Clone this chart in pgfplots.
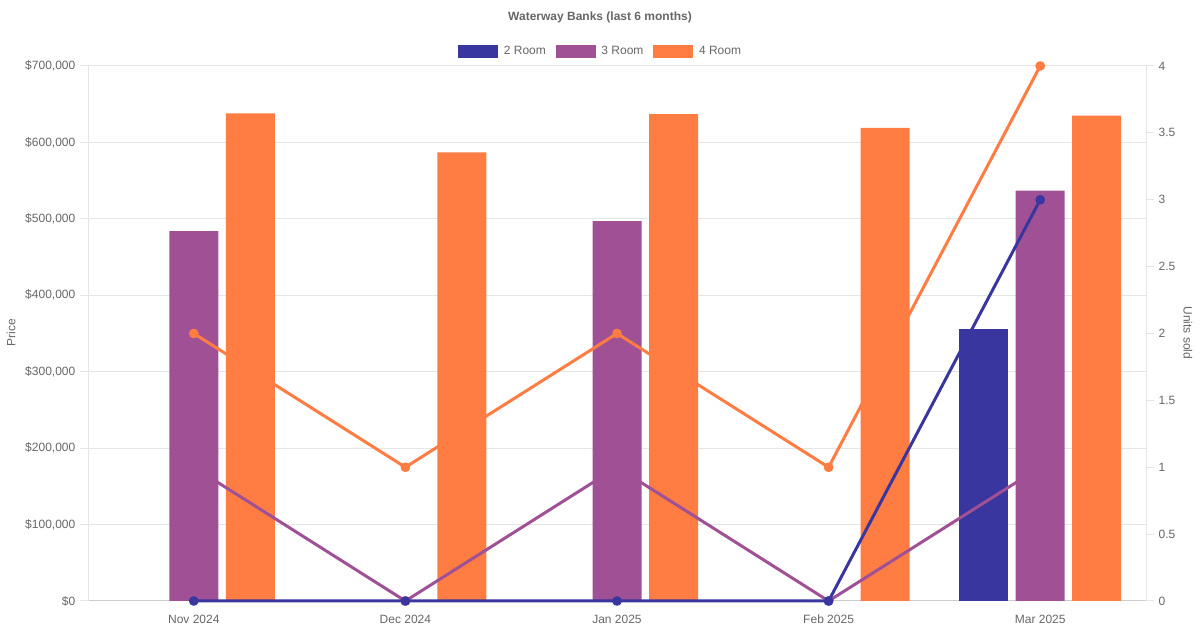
\documentclass[border=0pt]{standalone}
\usepackage{pgfplots}
\pgfplotsset{compat=1.18}
\usepackage{fontspec}
\setmainfont{Liberation Sans}
\definecolor{cA}{RGB}{57,54,159}
\definecolor{cB}{RGB}{160,81,149}
\definecolor{cC}{RGB}{255,124,67}
\definecolor{txt}{RGB}{102,102,102}
\definecolor{gridc}{RGB}{229,229,229}
\definecolor{axc}{RGB}{204,204,204}
\newcommand\f{\fontsize{9}{11}\selectfont}
\pgfplotsset{
  mybar/.style={ybar, bar width=36.75pt, draw=none,
    legend image code/.code={\fill[##1,/tikz/.cd] (0pt,-4.875pt) rectangle (30pt,4.875pt);}},
  common/.style={at={(66pt,21.75pt)}, anchor=south west,
    scale only axis, width=793.5pt, height=401.25pt,
    xmin=-0.5, xmax=4.5,
    tick label style={font=\f, text=txt},
    tick align=outside, major tick length=6pt},
}
\begin{document}
\begin{tikzpicture}[x=1pt,y=1pt]
\useasboundingbox (0,0) rectangle (900,472.5);
\begin{axis}[common,
  ymin=0, ymax=700000,
  scaled y ticks=false,
  axis x line*=bottom, axis y line*=left,
  x axis line style={axc, line width=0.75pt},
  y axis line style={gridc, line width=0.75pt},
  xtick={0,1,2,3,4},
  xticklabels={Nov 2024,Dec 2024,Jan 2025,Feb 2025,Mar 2025},
  xtick style={draw=none},
  xticklabel style={anchor=base, yshift=-11pt},
  ytick={0,100000,200000,300000,400000,500000,600000,700000},
  yticklabels={{\$0},{\$100,000},{\$200,000},{\$300,000},{\$400,000},{\$500,000},{\$600,000},{\$700,000}},
  ytick style={gridc, line width=0.75pt},
  ymajorgrids, grid style={gridc, line width=0.75pt},
  yticklabel style={anchor=east},
  legend columns=3,
  legend style={at={(0.5,1.0299)}, anchor=center, xshift=-12.1pt, yshift=-1.1pt,
    draw=none, fill=none, font=\f, text=txt,
    /tikz/every odd column/.append style={column sep=2.4pt},
    /tikz/every even column/.append style={column sep=5.3pt}},
]
\addplot[mybar, bar shift=-42.4pt, fill=cA] coordinates {(4,356000)};
\addlegendentry{2 Room}
\addplot[mybar, bar shift=0pt, fill=cB] coordinates {(0,484000) (2,497000) (4,537000)};
\addlegendentry{3 Room}
\addplot[mybar, bar shift=42.4pt, fill=cC] coordinates {(0,638000) (1,587000) (2,637000) (3,619000) (4,635000)};
\addlegendentry{4 Room}
\end{axis}
\begin{axis}[common,
  ymin=0, ymax=4,
  axis x line=none, axis y line*=right,
  y axis line style={gridc, line width=0.75pt},
  ytick={0,0.5,1,1.5,2,2.5,3,3.5,4},
  yticklabels={0,0.5,1,1.5,2,2.5,3,3.5,4},
  ytick style={gridc, line width=0.75pt},
  yticklabel style={anchor=west},
  clip=false,
]
\addplot[cC, line width=2.25pt, line join=round, mark=*, mark size=2.5pt, mark options={solid}] coordinates {(0,2) (1,1) (2,2) (3,1) (4,4)};
\addplot[cB, line width=2.25pt, line join=round, mark=*, mark size=2.5pt] coordinates {(0,1) (1,0) (2,1) (3,0) (4,1)};
\addplot[cA, line width=2.25pt, line join=round, mark=*, mark size=2.5pt] coordinates {(0,0) (1,0) (2,0) (3,0) (4,3)};
\end{axis}
\node[font=\bfseries\f, text=txt] at (450,459.75) {Waterway Banks (last 6 months)};
\node[font=\f, text=txt, rotate=90] at (8.25,222.75) {Price};
\node[font=\f, text=txt, rotate=-90] at (891,222.75) {Units sold};
\end{tikzpicture}
\end{document}
